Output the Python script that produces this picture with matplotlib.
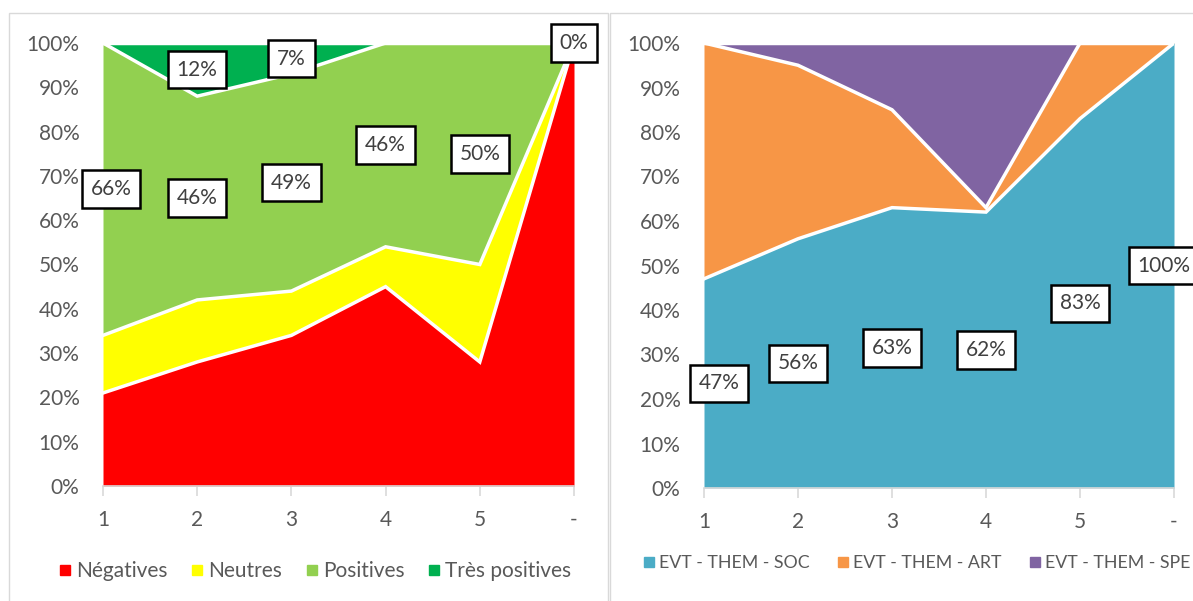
import matplotlib
matplotlib.use("Agg")
import matplotlib.pyplot as plt
from matplotlib.lines import Line2D
from matplotlib.patches import Rectangle
import numpy as np

# ---- data ----
categories = ["1", "2", "3", "4", "5", "-"]

neg = [21, 28, 34, 45, 28, 100]
neutres = [13, 14, 10, 9, 22, 0]
positives = [66, 46, 49, 46, 50, 0]
tres_pos = [0, 12, 7, 0, 0, 0]
left_names = ["Négatives", "Neutres", "Positives", "Très positives"]
left_colors = ["#FF0000", "#FFFF00", "#92D050", "#00B050"]

soc = [47, 56, 63, 62, 83, 100]
art = [53, 39, 22, 1, 17, 0]
spe = [0, 5, 15, 37, 0, 0]
right_names = ["EVT - THEM - SOC", "EVT - THEM - ART", "EVT - THEM - SPE"]
right_colors = ["#4BACC6", "#F79646", "#8064A2"]

# which labels to show: (series index, category index)
left_labels = [(2, i) for i in range(6)] + [(3, 1), (3, 2)]
right_labels = [(0, i) for i in range(6)]

FONT = ["Lato", "DejaVu Sans"]
plt.rcParams["font.family"] = FONT
TXT = "#595959"
FS = 15

W, H = 1193, 601
fig = plt.figure(figsize=(W / 100, H / 100), dpi=100)

# panel frames
fig.add_artist(Rectangle((9 / W, -0.01), 599 / W, 1 - 13 / H + 0.01, transform=fig.transFigure,
                         fill=False, edgecolor="#D9D9D9", linewidth=1))
fig.add_artist(Rectangle((610 / W, -0.01), 600 / W, 1 - 13 / H + 0.01, transform=fig.transFigure,
                         fill=False, edgecolor="#D9D9D9", linewidth=1))


def stacked(ax, series, colors, labels, shifts):
    x = np.arange(len(categories))
    base = np.zeros(len(categories))
    tops = []
    for s, c in zip(series, colors):
        top = base + np.array(s)
        ax.fill_between(x, base, top, color=c, linewidth=0, zorder=2)
        tops.append((base.copy(), top.copy()))
        base = top
    for b, t in tops:
        ax.plot(x, t, color="white", linewidth=2.5, zorder=3, solid_joinstyle="miter")
    for si, ci in labels:
        b, t = tops[si]
        mid = (b[ci] + t[ci]) / 2
        val = series[si][ci]
        ax.annotate(f"{val}%", (x[ci], mid), xytext=(shifts.get(ci, 0), 0),
                    textcoords="offset pixels", ha="center", va="center",
                    fontsize=FS, color="#404040", zorder=5, annotation_clip=False,
                    bbox=dict(boxstyle="square,pad=0.42", facecolor="white",
                              edgecolor="black", linewidth=1.8))

    ax.set_xlim(0, len(categories) - 1)
    ax.set_ylim(0, 100)
    ax.set_xticks(x)
    ax.set_xticklabels(categories)
    ax.set_yticks(np.arange(0, 101, 10))
    ax.set_yticklabels([f"{v}%" for v in range(0, 101, 10)])
    for sp in ["top", "right", "left"]:
        ax.spines[sp].set_visible(False)
    ax.spines["bottom"].set_color("#D9D9D9")
    ax.spines["bottom"].set_linewidth(1.2)
    ax.tick_params(axis="y", length=0, pad=17, labelsize=FS, labelcolor=TXT)
    ax.tick_params(axis="x", length=7, color="#D9D9D9", width=1.2, pad=10,
                   labelsize=FS, labelcolor=TXT)


ax1 = fig.add_axes([103 / W, 1 - 486 / H, 471 / W, 443 / H])
stacked(ax1, [neg, neutres, positives, tres_pos], left_colors, left_labels, {0: 8})

ax2 = fig.add_axes([704 / W, 1 - 488 / H, 470 / W, 445 / H])
stacked(ax2, [soc, art, spe], right_colors, right_labels, {0: 15, 5: -10})


def legend(names, colors, cx, cy, fs, colsp):
    handles = [Line2D([0], [0], marker="s", linestyle="none", markersize=7,
                      markerfacecolor=c, markeredgecolor=c, label=n)
               for n, c in zip(names, colors)]
    fig.legend(handles=handles, loc="center", bbox_to_anchor=(cx / W, 1 - cy / H),
               ncol=len(names), frameon=False, fontsize=fs, labelcolor=TXT,
               handletextpad=0.05, columnspacing=colsp, handlelength=1.0)


legend(left_names, left_colors, 313, 571, FS, 0.9)
legend(right_names, right_colors, 915, 563, 12.8, 1.4)

fig.savefig("out.png", dpi=100)
